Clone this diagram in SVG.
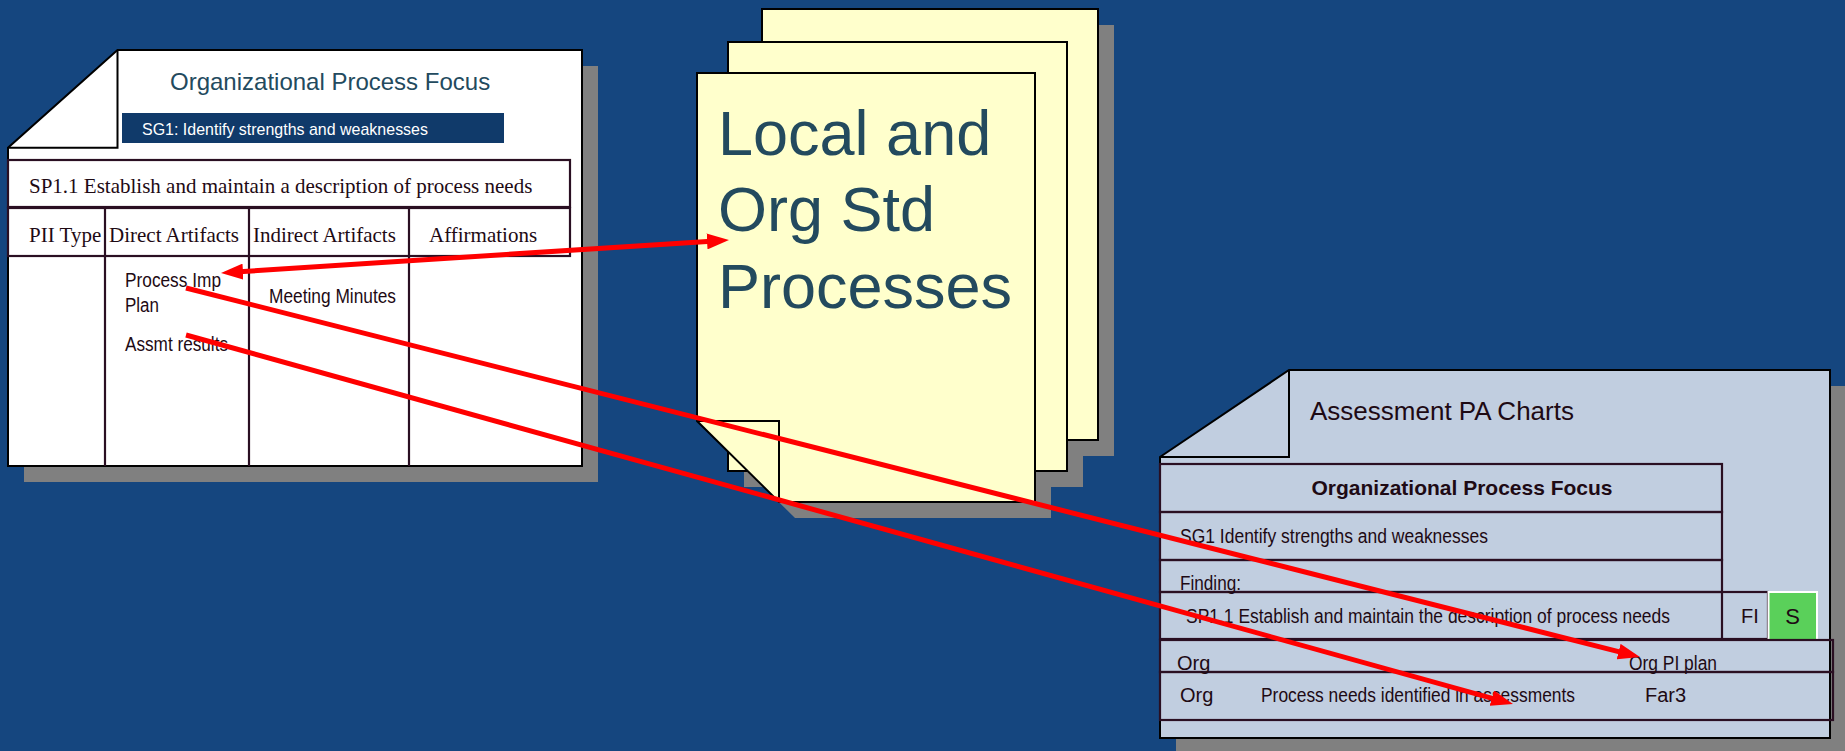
<svg xmlns="http://www.w3.org/2000/svg" width="1845" height="751" viewBox="0 0 1845 751">
<style>
.shadow{fill:#808080}
.page{stroke:#000;stroke-width:2}
.ln{fill:none;stroke:#2a0f22;stroke-width:2.2}
.serif{font-family:"Liberation Serif","Times New Roman",serif;font-size:21px;fill:#1e0a14}
.narrow{font-family:"Liberation Sans Narrow","Liberation Sans",Arial,sans-serif;font-size:20px;fill:#1e0a14}
.sans{font-family:"Liberation Sans",Arial,sans-serif}
.arrow{fill:none;stroke:#ff0000;stroke-width:5}
</style>
<defs>
<marker id="ah" markerUnits="userSpaceOnUse" viewBox="0 0 22 16" markerWidth="22" markerHeight="16" refX="8" refY="8" orient="auto-start-reverse">
<path d="M0,0 L22,8 L0,16 z" fill="#ff0000"/>
</marker>
</defs>
<rect width="1845" height="751" fill="#15467f"/>

<g id="opf-doc">
<path class="shadow" d="M133.5,66 H598 V482 H24 V163.7 Z"/>
<path class="page" fill="#ffffff" d="M117.5,50 H582 V466 H8 V147.7 Z"/>
<path class="page" fill="none" d="M8,147.7 H117.5 V50"/>
<text class="sans" x="170" y="90" font-size="24" fill="#234a5e">Organizational Process Focus</text>
<rect x="122" y="113" width="382" height="30" fill="#103a6a"/>
<text class="sans" x="142" y="135" font-size="17" fill="#ffffff" textLength="286" lengthAdjust="spacingAndGlyphs">SG1: Identify strengths and weaknesses</text>
<rect class="ln" x="8" y="160" width="562" height="47"/>
<rect class="ln" x="8" y="208" width="562" height="48"/>
<path class="ln" d="M105,208 V466 M249,208 V466 M409,208 V466"/>
<text class="serif" x="29" y="193">SP1.1 Establish and maintain a description of process needs</text>
<text class="serif" x="29" y="242">PII Type</text>
<text class="serif" x="109" y="242">Direct Artifacts</text>
<text class="serif" x="253" y="242">Indirect Artifacts</text>
<text class="serif" x="429" y="242">Affirmations</text>
<text class="narrow" x="125" y="287" textLength="96" lengthAdjust="spacingAndGlyphs">Process Imp</text>
<text class="narrow" x="125" y="312" textLength="34" lengthAdjust="spacingAndGlyphs">Plan</text>
<text class="narrow" x="125" y="351" textLength="103" lengthAdjust="spacingAndGlyphs">Assmt results</text>
<text class="narrow" x="269" y="303" textLength="127" lengthAdjust="spacingAndGlyphs">Meeting Minutes</text>
</g>

<g id="std-processes">
<rect class="shadow" x="778" y="25" width="336" height="431"/>
<rect class="shadow" x="744" y="58" width="339" height="429"/>
<path class="shadow" d="M713,89 H1051 V518 H795 L713,437 Z"/>
<rect class="page" fill="#ffffcc" x="762" y="9" width="336" height="431"/>
<rect class="page" fill="#ffffcc" x="728" y="42" width="339" height="429"/>
<path class="page" fill="#ffffcc" d="M697,73 H1035 V502 H779 L697,421 Z"/>
<path class="page" fill="none" d="M697,421 H779 V502"/>
<g class="sans" font-size="63" fill="#234a5e">
<text x="718" y="155">Local and</text>
<text x="718" y="231">Org Std</text>
<text x="718" y="308">Processes</text>
</g>
</g>

<g id="pa-charts">
<path class="shadow" d="M1305,386 H1846 V754 H1176 V473 Z"/>
<path class="page" fill="#c1cee0" d="M1289,370 H1830 V738 H1160 V457 Z"/>
<path class="page" fill="none" d="M1160,457 H1289 V370"/>
<text class="sans" x="1310" y="420" font-size="26" fill="#1e0a14">Assessment PA Charts</text>
<rect class="ln" x="1160" y="464" width="562" height="48"/>
<rect class="ln" x="1160" y="512" width="562" height="48"/>
<rect class="ln" x="1160" y="560" width="562" height="32"/>
<rect class="ln" x="1160" y="592" width="608" height="47"/>
<path class="ln" d="M1722,592 V639"/>
<rect x="1768.5" y="592" width="48.5" height="48" fill="#5ad05a" stroke="#ffffff" stroke-width="2"/>
<rect class="ln" x="1160" y="640" width="673" height="32"/>
<rect class="ln" x="1160" y="672" width="673" height="48"/>
<text class="sans" x="1462" y="495" font-size="21" font-weight="bold" fill="#1e0a14" text-anchor="middle">Organizational Process Focus</text>
<text class="narrow" x="1180" y="543" font-size="21" textLength="308" lengthAdjust="spacingAndGlyphs">SG1 Identify strengths and weaknesses</text>
<text class="narrow" x="1180" y="590" font-size="21" textLength="61" lengthAdjust="spacingAndGlyphs">Finding:</text>
<text class="narrow" x="1186" y="623" font-size="21" textLength="484" lengthAdjust="spacingAndGlyphs">SP1.1 Establish and maintain the description of process needs</text>
<text class="narrow" x="1741" y="623" font-size="21">FI</text>
<text class="sans" x="1792.7" y="624" font-size="22" fill="#1e0a14" text-anchor="middle">S</text>
<text class="narrow" x="1177" y="670" font-size="21">Org</text>
<text class="narrow" x="1629" y="670" font-size="21" textLength="88" lengthAdjust="spacingAndGlyphs">Org PI plan</text>
<text class="narrow" x="1180" y="702" font-size="21">Org</text>
<text class="narrow" x="1261" y="702" font-size="21" textLength="314" lengthAdjust="spacingAndGlyphs">Process needs identified in assessments</text>
<text class="narrow" x="1645" y="702" font-size="21">Far3</text>
</g>

<g id="connectors">
<path class="arrow" d="M235,272.1 L715,240.9" marker-start="url(#ah)" marker-end="url(#ah)"/>
<path class="arrow" d="M186,288 L1626.4,653.6" marker-end="url(#ah)"/>
<path class="arrow" d="M186,335 L1499.5,700.3" marker-end="url(#ah)"/>
</g>
</svg>
